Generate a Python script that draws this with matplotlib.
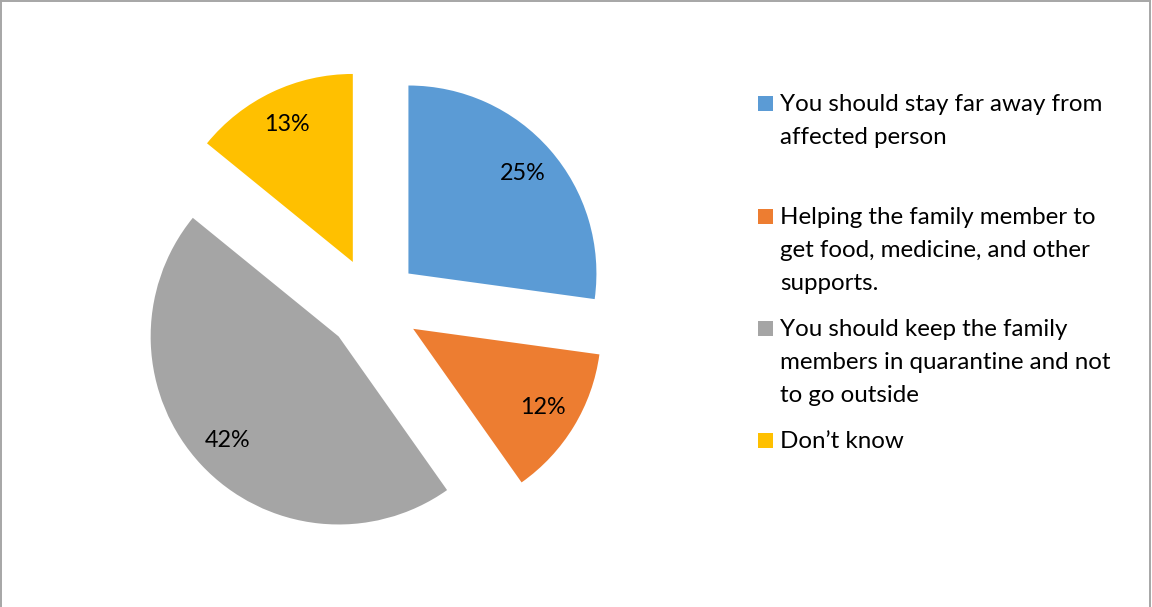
import matplotlib.pyplot as plt
from matplotlib.patches import Rectangle
from matplotlib.lines import Line2D

plt.rcParams['font.family'] = ['Lato', 'DejaVu Sans']

# data
categories = ['You should stay far away from\naffected person',
              'Helping the family member to\nget food, medicine, and other\nsupports.',
              'You should keep the family\nmembers in quarantine and not\nto go outside',
              'Don\u2019t know']
values = [25, 12, 42, 13]
colors = ['#5B9BD5', '#ED7D31', '#A5A5A5', '#FFC000']

W, H = 1152, 607
fig = plt.figure(figsize=(W / 100, H / 100), dpi=100)

# pie placed in pixel coords: centre (373, 304) from top, radius 188 px
cx, cy = 373, H - 304.4
r = 188
half = 300
ax = fig.add_axes([(cx - half) / W, (cy - half) / H, 2 * half / W, 2 * half / H])
total = sum(values)
ax.pie(values, colors=colors, explode=[0.25] * len(values), startangle=90,
       counterclock=False, pctdistance=0.81,
       autopct=lambda p: '%d%%' % round(p * total / 100),
       wedgeprops=dict(linewidth=0),
       textprops=dict(fontsize=16.8, color='#000000'))
lim = half / r
ax.set_xlim(-lim, lim)
ax.set_ylim(-lim, lim)
ax.axis('off')

# legend drawn by hand
entry_base = [111, 224, 336, 448]  # baseline of first line, px from top
line_step = 33
for lab, col, yb in zip(categories, colors, entry_base):
    fig.patches.append(Rectangle((758 / W, (H - yb) / H), 15 / W, 15 / H,
                                 transform=fig.transFigure, facecolor=col,
                                 edgecolor='none'))
    for i, line in enumerate(lab.split('\n')):
        fig.text(780 / W, (H - yb - i * line_step) / H, line, fontsize=17.4,
                 ha='left', va='baseline', color='#000000')

# thin frame around the chart area
for xs, ys in [([1, 1150], [H - 1, H - 1]), ([1, 1], [0, H - 1]), ([1150, 1150], [0, H - 1])]:
    fig.add_artist(Line2D([x / W for x in xs], [y / H for y in ys],
                          transform=fig.transFigure, color='#A6A6A6', lw=1.4))

fig.savefig('out.png', dpi=100)
